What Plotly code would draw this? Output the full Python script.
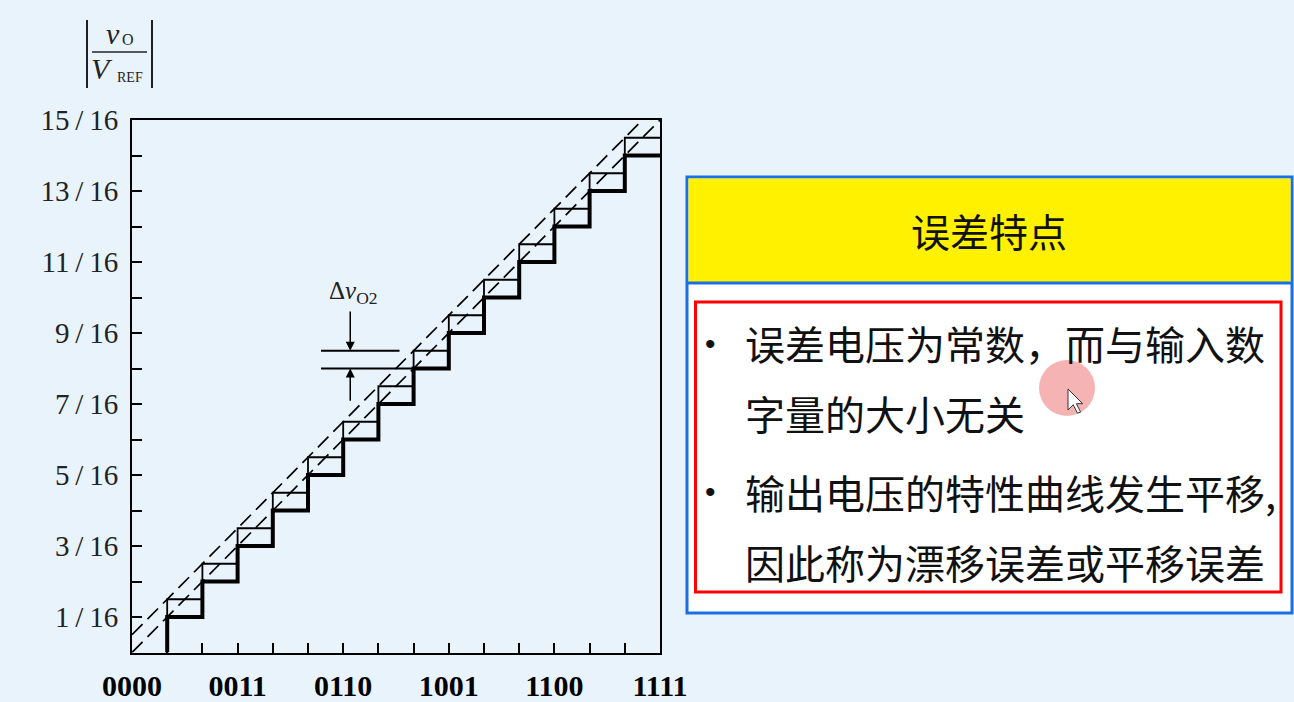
import plotly.graph_objects as go

# ---------------- data ----------------
codes = list(range(16))
code_labels = ["0000", "", "", "0011", "", "", "0110", "", "", "1001", "", "", "1100", "", "", "1111"]
# ideal output level for each code, in units of V_REF/16
ideal_out = [0, 1, 2, 3, 4, 5, 6, 7, 8, 9, 10, 11, 12, 13, 14, 15]
# output with a constant offset error (Δv_O2 = 0.5/16)
shifted_out = [0.5, 1.5, 2.5, 3.5, 4.5, 5.5, 6.5, 7.5, 8.5, 9.5, 10.5, 11.5, 12.5, 13.5, 14.5, 15.5]
y_tickvals = list(range(1, 16))
y_ticktext = [(f"{v}\u2009/\u200916" if v % 2 == 1 else "") for v in y_tickvals]

header_text = "误差特点"
bullet_lines = [
    ("•", "误差电压为常数，而与输入数"),
    ("", "字量的大小无关"),
    ("•", "输出电压的特性曲线发生平移,"),
    ("", "因此称为漂移误差或平移误差"),
]

W, H = 1294, 702
BG = "#E9F3FC"
SERIF = "Liberation Serif"
CJK = "Noto Sans CJK SC"


def px(x):
    return x / W


def py(y):
    return 1 - y / H


def ptext(x, y, text, size, family, color="#111", xanchor="center"):
    return dict(xref="paper", yref="paper", x=px(x), y=py(y), text=text, showarrow=False,
                xanchor=xanchor, yanchor="middle",
                font=dict(family=family, size=size, color=color))


fig = go.Figure()

# thick staircase (output with error, lower)
fig.add_trace(go.Scatter(
    x=[codes[1]] + codes[1:15] + [codes[15]],
    y=[ideal_out[0]] + ideal_out[1:15] + [ideal_out[14]],
    mode="lines", line=dict(shape="hv", color="black", width=4),
    hoverinfo="skip", showlegend=False))

# thin staircase (shifted)
fig.add_trace(go.Scatter(
    x=[codes[1]] + codes[1:15] + [codes[15]],
    y=[shifted_out[0]] + shifted_out[1:15] + [shifted_out[14]],
    mode="lines", line=dict(shape="hv", color="black", width=1.8),
    hoverinfo="skip", showlegend=False))

# dashed reference lines
fig.add_trace(go.Scatter(
    x=[codes[0], codes[15]], y=[ideal_out[0], ideal_out[15]],
    mode="lines", line=dict(color="black", width=1.7, dash="15px,7px"),
    hoverinfo="skip", showlegend=False))
fig.add_trace(go.Scatter(
    x=[codes[0], codes[15] - shifted_out[0]], y=[shifted_out[0], ideal_out[15]],
    mode="lines", line=dict(color="black", width=1.7, dash="15px,7px"),
    hoverinfo="skip", showlegend=False))

shapes = []
annotations = []

# Δv_O2 callout lines
shapes.append(dict(type="line", xref="x", yref="y", x0=5.37, x1=codes[8],
                   y0=ideal_out[8], y1=ideal_out[8], line=dict(color="black", width=1.8)))
shapes.append(dict(type="line", xref="x", yref="y", x0=5.37, x1=7.6,
                   y0=shifted_out[8], y1=shifted_out[8], line=dict(color="black", width=1.8)))
annotations.append(dict(xref="x", yref="y", axref="x", ayref="y",
                        x=6.2, y=shifted_out[8], ax=6.2, ay=9.65,
                        showarrow=True, arrowhead=2, arrowsize=1.2, arrowwidth=1.5,
                        arrowcolor="black", text=""))
annotations.append(dict(xref="x", yref="y", axref="x", ayref="y",
                        x=6.2, y=ideal_out[8], ax=6.2, ay=7.05,
                        showarrow=True, arrowhead=2, arrowsize=1.2, arrowwidth=1.5,
                        arrowcolor="black", text=""))
annotations.append(dict(xref="x", yref="y", x=6.3, y=10.15, showarrow=False,
                        xanchor="center", yanchor="middle",
                        text="Δ<i>v</i><sub>O2</sub>",
                        font=dict(family=SERIF, size=25, color="#222")))

# top-left axis title |v_O / V_REF|
annotations += [
    ptext(113, 34, "<i>v</i>", 30, SERIF, "#222"),
    ptext(128, 40, "O", 16, SERIF, "#222"),
    ptext(102, 69, "<i>V</i>", 30, SERIF, "#222"),
    ptext(130, 77, "REF", 14, SERIF, "#222"),
]
shapes += [
    dict(type="line", xref="paper", yref="paper", x0=px(92), x1=px(147), y0=py(52), y1=py(52),
         line=dict(color="#222", width=1.3)),
    dict(type="line", xref="paper", yref="paper", x0=px(87), x1=px(87), y0=py(20), y1=py(88),
         line=dict(color="#222", width=2)),
    dict(type="line", xref="paper", yref="paper", x0=px(152), x1=px(152), y0=py(20), y1=py(88),
         line=dict(color="#222", width=2)),
]

# right panel
shapes += [
    dict(type="rect", xref="paper", yref="paper", x0=px(687), x1=px(1292), y0=py(613), y1=py(177),
         fillcolor="white", line=dict(color="#1A6FE6", width=3)),
    dict(type="rect", xref="paper", yref="paper", x0=px(688.5), x1=px(1290.5), y0=py(282), y1=py(178.5),
         fillcolor="#FFF100", line=dict(width=0)),
    dict(type="line", xref="paper", yref="paper", x0=px(688), x1=px(1291), y0=py(283), y1=py(283),
         line=dict(color="#1A6FE6", width=3)),
    dict(type="rect", xref="paper", yref="paper", x0=px(695.5), x1=px(1281), y0=py(592), y1=py(302),
         line=dict(color="#FF0000", width=3)),
    dict(type="circle", xref="paper", yref="paper", x0=px(1039), x1=px(1095), y0=py(416), y1=py(360),
         fillcolor="rgba(244,160,160,0.8)", line=dict(width=0)),
]
# mouse cursor
cur = [(0, 0), (0, 20), (5, 15), (9, 23), (12, 22), (8, 14), (14, 14)]
cx, cy = 1068, 389
path = "M " + " L ".join(f"{px(cx + a * 1.05):.5f},{py(cy + b * 1.05):.5f}" for a, b in cur) + " Z"
shapes.append(dict(type="path", xref="paper", yref="paper", path=path,
                   fillcolor="white", line=dict(color="#333", width=1)))

annotations.append(ptext(989, 230, header_text, 39, CJK))
line_y = [343, 413, 492, 562]
for (b, t), yy in zip(bullet_lines, line_y):
    if b:
        annotations.append(ptext(711, yy, b, 30, "Liberation Sans"))
    annotations.append(ptext(743, yy, t, 40, CJK, xanchor="left"))

fig.update_layout(
    width=W, height=H, margin=dict(l=0, r=0, t=0, b=0, autoexpand=False),
    paper_bgcolor=BG, plot_bgcolor=BG,
    shapes=shapes, annotations=annotations, showlegend=False,
    xaxis=dict(domain=[px(132), px(660)], range=[0, 15], tickvals=codes, ticktext=code_labels,
               ticks="inside", ticklen=10, tickwidth=2, tickcolor="black", automargin=False,
               showline=True, linewidth=2, linecolor="black", mirror=True,
               showgrid=False, zeroline=False, ticklabelstandoff=5,
               tickfont=dict(family=SERIF, size=30, color="black", weight="bold")),
    yaxis=dict(domain=[py(652.5), py(120)], range=[0, 15], tickvals=y_tickvals, ticktext=y_ticktext,
               ticks="inside", ticklen=10, tickwidth=2, tickcolor="black", automargin=False,
               showline=True, linewidth=2, linecolor="black", mirror=True,
               showgrid=False, zeroline=False, ticklabelstandoff=6,
               tickfont=dict(family=SERIF, size=29, color="#222")),
)

fig.write_html("out.html")
